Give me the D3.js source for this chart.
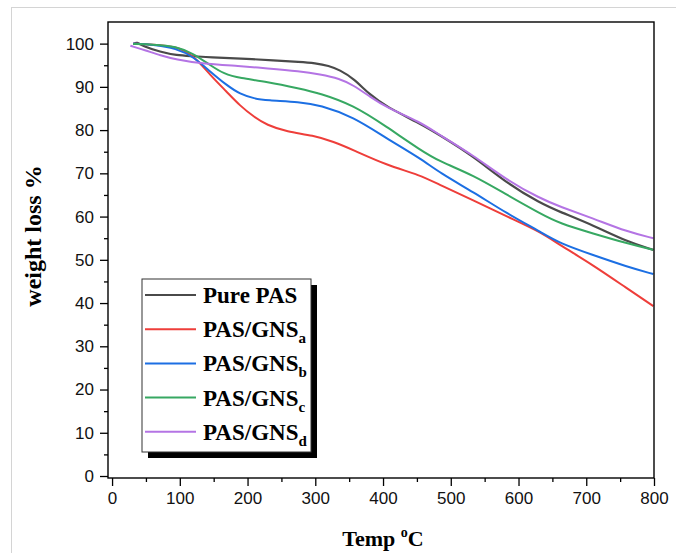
<!DOCTYPE html>
<html><head><meta charset="utf-8">
<script src="https://cdn.jsdelivr.net/npm/d3@7"></script>
<style>html,body{margin:0;padding:0;background:#fff;}svg{display:block;}</style>
</head><body>
<script>
// ---- data (temperature °C, weight %) ----
const seriesNames = ["Pure PAS", "PAS/GNS", "PAS/GNS", "PAS/GNS", "PAS/GNS"];
const seriesSubs = ["", "a", "b", "c", "d"];
const seriesColors = ["#4a4a4a", "#ee3e3a", "#1c6fe3", "#37a862", "#b474e4"];

const purePAS_T = [33, 36, 46, 71, 95, 120, 145, 189, 240, 277, 300, 320, 336, 356, 381, 405, 455, 484, 533, 583, 632, 661, 710, 760, 799];
const purePAS_W = [100.0, 100.4, 99.4, 98.1, 97.3, 97.1, 96.8, 96.6, 96.1, 95.8, 95.5, 94.9, 93.9, 92.0, 88.1, 85.4, 81.5, 78.8, 74.0, 67.7, 63.1, 61.1, 58.0, 54.2, 52.3];

const gnsA_T = [31, 60, 95, 120, 145, 169, 189, 210, 228, 258, 297, 327, 356, 405, 455, 484, 533, 583, 632, 661, 710, 760, 799];
const gnsA_W = [100.0, 99.8, 99.4, 97.3, 92.7, 88.9, 85.6, 83.0, 81.2, 79.6, 78.8, 77.3, 75.4, 71.9, 69.6, 67.3, 63.8, 60.0, 56.5, 53.4, 48.8, 43.4, 39.3];

const gnsB_T = [31, 60, 95, 120, 145, 169, 189, 210, 228, 277, 307, 356, 405, 455, 484, 533, 583, 632, 661, 710, 760, 799];
const gnsB_W = [100.0, 99.8, 98.9, 97.0, 93.5, 90.4, 88.3, 87.3, 86.9, 86.5, 85.8, 83.1, 78.1, 73.5, 70.1, 65.7, 60.7, 56.5, 53.8, 51.1, 48.4, 46.7];

const gnsC_T = [31, 60, 95, 120, 145, 165, 189, 228, 277, 307, 356, 405, 455, 484, 533, 583, 632, 661, 710, 760, 799];
const gnsC_W = [99.9, 99.8, 99.4, 97.7, 95.0, 93.0, 92.0, 91.2, 89.6, 88.5, 85.8, 80.8, 75.4, 72.7, 69.6, 65.0, 60.7, 58.4, 56.1, 53.8, 52.3];

const gnsD_T = [27, 50, 71, 95, 130, 189, 228, 277, 307, 336, 356, 381, 405, 455, 484, 533, 583, 632, 661, 710, 760, 799];
const gnsD_W = [99.5, 98.4, 97.3, 96.3, 95.4, 94.8, 94.3, 93.6, 92.9, 91.9, 90.4, 87.7, 85.2, 81.9, 78.8, 74.2, 68.4, 64.2, 62.3, 59.6, 56.5, 55.0];

const xTicks = [0, 100, 200, 300, 400, 500, 600, 700, 800];
const yTicks = [0, 10, 20, 30, 40, 50, 60, 70, 80, 90, 100];
const xMinor = [50, 150, 250, 350, 450, 550, 650, 750];
const yMinor = [5, 15, 25, 35, 45, 55, 65, 75, 85, 95];

const seriesT = [purePAS_T, gnsA_T, gnsB_T, gnsC_T, gnsD_T];
const seriesW = [purePAS_W, gnsA_W, gnsB_W, gnsC_W, gnsD_W];

// ---- drawing ----
const W = 676, H = 553;
const L = 108, R = 654, T = 22, B = 478;
const svg = d3.select("body").append("svg").attr("width", W).attr("height", H);

svg.append("rect").attr("x", 11.5).attr("y", 7.5).attr("width", 700).attr("height", 600)
  .attr("fill", "none").attr("stroke", "#d4d4d4").attr("stroke-width", 1);

const x = d3.scaleLinear().domain([-6, 800]).range([L, R]);
const y = d3.scaleLinear().domain([-0.46, 105]).range([B, T]);

const line = d3.line().x(d => x(d[0])).y(d => y(d[1])).curve(d3.curveBasis);
const plot = svg.append("g");
seriesT.forEach((ts, i) => {
  const pts = ts.map((t, j) => [t, seriesW[i][j]]);
  plot.append("path").datum(pts).attr("d", line)
    .attr("fill", "none").attr("stroke", seriesColors[i]).attr("stroke-width", i === 0 ? 2.2 : 2);
});

// frame
svg.append("rect").attr("x", L).attr("y", T).attr("width", R - L).attr("height", B - T)
  .attr("fill", "none").attr("stroke", "#000").attr("stroke-width", 1.4);

// axes
const xAxis = d3.axisBottom(x).tickValues(xTicks).tickSize(8).tickPadding(6).tickFormat(d3.format("d"));
const gx = svg.append("g").attr("transform", `translate(0,${B})`).call(xAxis);
const gxm = svg.append("g").attr("transform", `translate(0,${B})`)
  .call(d3.axisBottom(x).tickValues(xMinor).tickSize(4).tickFormat(""));
const yAxis = d3.axisLeft(y).tickValues(yTicks).tickSize(8).tickPadding(6).tickFormat(d3.format("d"));
const gy = svg.append("g").attr("transform", `translate(${L},0)`).call(yAxis);
const gym = svg.append("g").attr("transform", `translate(${L},0)`)
  .call(d3.axisLeft(y).tickValues(yMinor).tickSize(4).tickFormat(""));
[gx, gxm, gy, gym].forEach(g => {
  g.select(".domain").remove();
  g.selectAll("line").attr("stroke", "#000").attr("stroke-width", 1.3);
  g.selectAll("text").attr("fill", "#111").style("font-family", "'Liberation Sans', Arial, sans-serif").style("font-size", "17px");
});

// axis titles
const serif = "'Liberation Serif', 'Times New Roman', serif";
const xt = svg.append("text").attr("x", 383).attr("y", 546).attr("text-anchor", "middle")
  .style("font-family", serif).style("font-weight", "bold").style("font-size", "22px");
xt.append("tspan").text("Temp ");
xt.append("tspan").text("o").attr("dy", -9).style("font-size", "14px");
xt.append("tspan").text("C").attr("dy", 9);

svg.append("text").attr("transform", "translate(41,236) rotate(-90)").attr("text-anchor", "middle")
  .style("font-family", serif).style("font-weight", "bold").style("font-size", "24px")
  .text("weight loss %");

// legend
const lg = svg.append("g");
lg.append("rect").attr("x", 148).attr("y", 285).attr("width", 169).attr("height", 173).attr("fill", "#000");
lg.append("rect").attr("x", 142).attr("y", 279).attr("width", 169).attr("height", 173)
  .attr("fill", "#fff").attr("stroke", "#333").attr("stroke-width", 1);
seriesNames.forEach((nm, i) => {
  const yy = 295 + i * 34.2;
  lg.append("line").attr("x1", 145).attr("x2", 196).attr("y1", yy).attr("y2", yy)
    .attr("stroke", seriesColors[i]).attr("stroke-width", 2);
  const t = lg.append("text").attr("x", 203).attr("y", yy + 8)
    .style("font-family", serif).style("font-weight", "bold").style("font-size", "23px");
  t.append("tspan").text(nm);
  if (seriesSubs[i]) t.append("tspan").text(seriesSubs[i]).attr("dy", 6).style("font-size", "15px");
});
</script>
</body></html>
